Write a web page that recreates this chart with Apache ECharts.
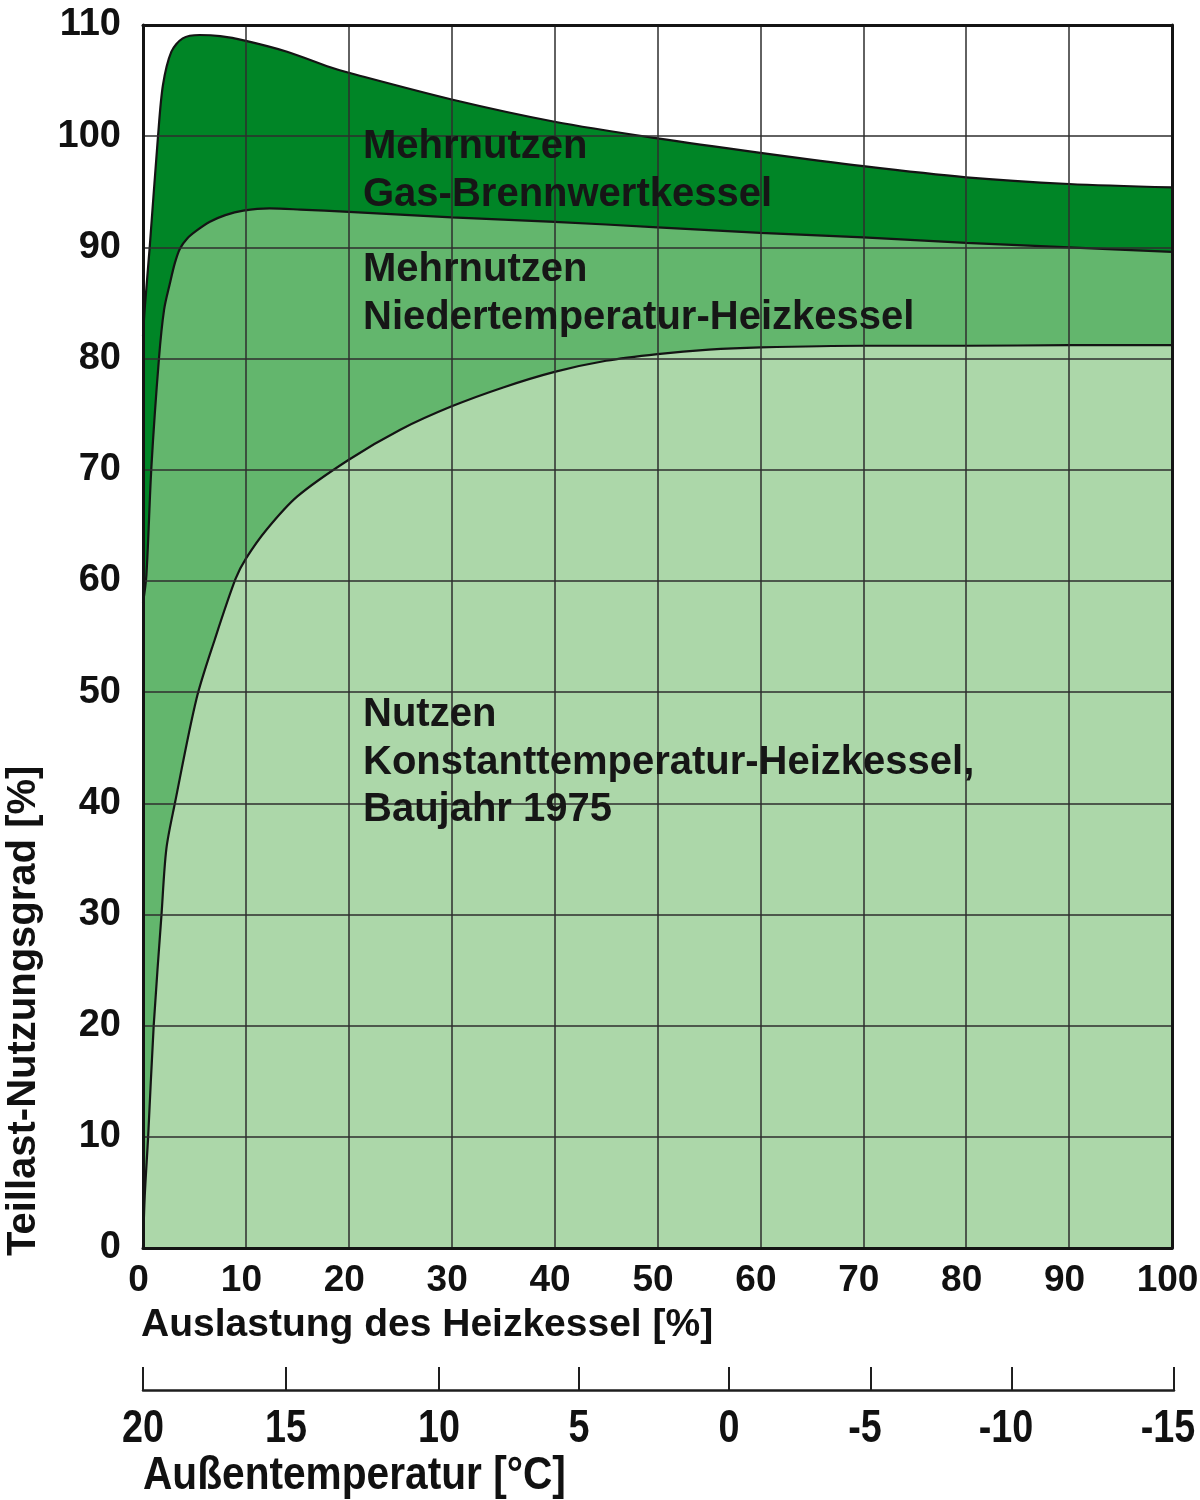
<!DOCTYPE html>
<html>
<head>
<meta charset="utf-8">
<script src="https://cdn.jsdelivr.net/npm/echarts@6/dist/echarts.min.js"></script>
<style>html,body{margin:0;padding:0;background:#fff}#c{width:1200px;height:1500px}</style>
</head>
<body>
<div id="c"></div>
<script>
// ---- data ----
const loadGas = [0, 0.17, 0.65, 1.46, 1.94, 2.76, 3.86, 5.5, 7.5, 9.9, 14, 18.2, 20, 30, 40, 50, 60, 70, 80, 90, 100];
const valGas  = [82, 84.5, 90, 100, 104.6, 107.6, 108.8, 109.1, 109.0, 108.6, 107.6, 106.2, 105.7, 103.3, 101.3, 99.8, 98.5, 97.3, 96.3, 95.7, 95.4];

const loadNT = [0, 0.33, 0.82, 1.55, 2.05, 2.6, 3.1, 3.6, 4.3, 5.2, 6.5, 8, 9.75, 12.3, 15.3, 20, 30, 40, 50, 60, 70, 80, 90, 100];
const valNT  = [58, 60.5, 70.3, 80, 84.4, 86.7, 88.6, 89.9, 90.8, 91.5, 92.3, 92.9, 93.3, 93.5, 93.4, 93.2, 92.7, 92.3, 91.8, 91.3, 90.9, 90.4, 90.0, 89.6];

const loadKT = [0, 0.17, 0.5, 1.04, 1.8, 2.27, 3.1, 5.2, 7, 9.0, 10, 12, 15, 20, 25, 30, 35, 40, 45, 50, 55, 60, 70, 80, 90, 100];
const valKT  = [0, 4.7, 10, 20, 30, 35.9, 40, 49.4, 54.8, 60.2, 62.0, 64.6, 67.6, 70.9, 73.6, 75.7, 77.4, 78.8, 79.8, 80.4, 80.8, 81.0, 81.15, 81.15, 81.2, 81.2];

const tempLabels = [20, 15, 10, 5, 0, -5, -10, -15];
const tempPos    = [0, 13.87, 28.71, 42.29, 56.84, 70.61, 84.29, 100];

const regionTexts = [
  ['Mehrnutzen', 'Gas-Brennwertkessel'],
  ['Mehrnutzen', 'Niedertemperatur-Heizkessel'],
  ['Nutzen', 'Konstanttemperatur-Heizkessel,', 'Baujahr 1975']
];
const regionTop = [147, 270, 715];

// ---- chart ----
const zip = (a, b) => a.map((v, i) => [v, b[i]]);
const F = '"Liberation Sans", Arial, sans-serif';
const lineCol = '#141414';
const NARROW = 0.82;

function areaSeries(name, data, color, z) {
  return {
    name, type: 'line', data, z,
    xAxisIndex: 0, yAxisIndex: 0,
    smooth: 0.3,
    showSymbol: false, symbol: 'none',
    lineStyle: { color: lineCol, width: 2.2 },
    areaStyle: { color, opacity: 1 },
    silent: true, animation: false
  };
}

const graphics = [];
regionTexts.forEach((lines, gi) => {
  lines.forEach((t, li) => {
    graphics.push({
      type: 'text', x: 363, y: regionTop[gi] + li * 47.5, z: 100,
      style: { text: t, font: 'bold 40px ' + F, fill: '#161616', textAlign: 'left', textVerticalAlign: 'middle' }
    });
  });
});
graphics.push({
  type: 'text', x: 24, y: 1256, rotation: Math.PI / 2, z: 100,
  style: { text: 'Teillast-Nutzungsgrad [%]', font: 'bold 40px ' + F, fill: '#111', textAlign: 'left', textVerticalAlign: 'middle' }
});
graphics.push({
  type: 'text', x: 141, y: 1325, z: 100,
  style: { text: 'Auslastung des Heizkessel [%]', font: 'bold 39px ' + F, fill: '#111', textAlign: 'left', textVerticalAlign: 'middle' }
});
graphics.push({
  type: 'text', x: 143, y: 1476, z: 100, scaleX: 0.865,
  style: { text: 'Außentemperatur [°C]', font: 'bold 47px ' + F, fill: '#111', textAlign: 'left', textVerticalAlign: 'middle' }
});

const chart = echarts.init(document.getElementById('c'), null, { renderer: 'canvas' });
chart.setOption({
  backgroundColor: '#fff',
  animation: false,
  grid: [
    { left: 143, right: 28, top: 25, height: 1223, containLabel: false, outerBoundsMode: 'none' },
    { left: 143, right: 26, top: 1367, height: 23, containLabel: false, outerBoundsMode: 'none' }
  ],
  xAxis: [
    {
      gridIndex: 0, type: 'value', min: 0, max: 100, interval: 10, position: 'bottom', z: 10,
      axisLine: { show: true, onZero: false, lineStyle: { color: lineCol, width: 3 } },
      axisTick: { show: false },
      axisLabel: { fontSize: 37, fontWeight: 'bold', fontFamily: F, color: '#111', margin: 14, padding: [0, 9, 0, 0] },
      splitLine: { show: true, lineStyle: { color: '#2e2e2e', width: 1.5 } }
    },
    {
      gridIndex: 0, type: 'value', min: 0, max: 100, position: 'top', z: 10,
      axisLine: { show: true, onZero: false, lineStyle: { color: lineCol, width: 3 } },
      axisTick: { show: false }, axisLabel: { show: false }, splitLine: { show: false }
    },
    {
      gridIndex: 1, type: 'value', min: 0, max: 100, position: 'bottom', z: 10,
      axisLine: { show: true, onZero: false, lineStyle: { color: '#1e1e1e', width: 2.5 } },
      axisTick: { show: false }, axisLabel: { show: false }, splitLine: { show: false }
    }
  ],
  yAxis: [
    {
      gridIndex: 0, type: 'value', min: 0, max: 110, interval: 10, position: 'left', z: 10,
      axisLine: { show: true, onZero: false, lineStyle: { color: lineCol, width: 3 } },
      axisTick: { show: false },
      axisLabel: { fontSize: 38, fontWeight: 'bold', fontFamily: F, color: '#111', margin: 22 },
      splitLine: { show: true, lineStyle: { color: '#2e2e2e', width: 1.5 } }
    },
    {
      gridIndex: 0, type: 'value', min: 0, max: 110, position: 'right', z: 10,
      axisLine: { show: true, onZero: false, lineStyle: { color: lineCol, width: 3 } },
      axisTick: { show: false }, axisLabel: { show: false }, splitLine: { show: false }
    },
    {
      gridIndex: 1, type: 'value', min: 0, max: 1, show: false
    }
  ],
  series: [
    areaSeries('Gas-Brennwertkessel', zip(loadGas, valGas), '#008526', 2),
    areaSeries('Niedertemperatur-Heizkessel', zip(loadNT, valNT), '#63b66d', 3),
    areaSeries('Konstanttemperatur-Heizkessel', zip(loadKT, valKT), '#acd7a9', 4),
    {
      type: 'custom', xAxisIndex: 2, yAxisIndex: 2, silent: true, animation: false, clip: false,
      data: zip(tempPos, tempLabels),
      encode: { x: 0 },
      renderItem: function (params, api) {
        const x = api.value(0);
        const v = api.value(1);
        const p0 = api.coord([x, 0]);
        const p1 = api.coord([x, 1]);
        const shift = v < 0 ? -6 : 0;
        return {
          type: 'group',
          children: [
            { type: 'line', shape: { x1: p0[0], y1: p0[1], x2: p1[0], y2: p1[1] }, style: { stroke: '#1e1e1e', lineWidth: 2 } },
            { type: 'text', x: p0[0] + shift, y: p0[1] + 39, scaleX: NARROW, style: { text: String(v), font: 'bold 46px ' + F, fill: '#111', textAlign: 'center', textVerticalAlign: 'middle' } }
          ]
        };
      }
    }
  ],
  graphic: graphics
});
</script>
</body>
</html>
